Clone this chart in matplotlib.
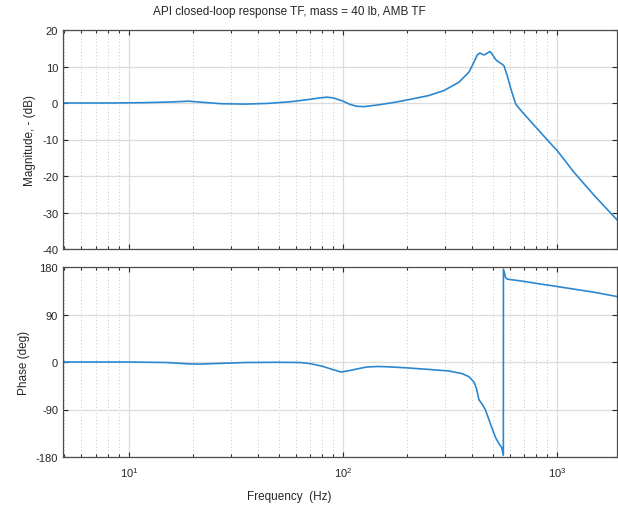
import numpy as np
import matplotlib
matplotlib.use("Agg")
import matplotlib.pyplot as plt
from matplotlib.ticker import LogLocator, NullFormatter

plt.rcParams['font.family'] = ['Liberation Sans', 'DejaVu Sans']
plt.rcParams['mathtext.fontset'] = 'custom'
plt.rcParams['mathtext.rm'] = 'Liberation Sans'

title_text = "API closed-loop response TF, mass = 40 lb, AMB TF"
mag_label = "Magnitude, - (dB)"
phase_label = "Phase (deg)"
freq_label = "Frequency  (Hz)"

# magnitude (Hz, dB)
mag_freq = [4.92, 8, 12, 16, 19, 22, 27, 35, 45, 58, 70, 78, 84, 90, 99, 108, 116, 125,
            147, 175, 210, 250, 296, 348, 388, 409, 424, 436, 448, 458, 470, 485, 495,
            507, 520, 535, 555, 565, 585, 608, 641, 688, 795, 949, 1000, 1200, 1500, 1905]
mag_db = [0.0, 0.0, 0.1, 0.3, 0.5, 0.2, -0.2, -0.3, -0.1, 0.4, 1.0, 1.4, 1.6, 1.4, 0.6,
          -0.4, -0.9, -1.0, -0.5, 0.2, 1.1, 2.0, 3.4, 5.7, 8.5, 11.2, 13.2, 13.7, 13.3,
          13.2, 13.6, 14.1, 13.6, 12.6, 11.7, 11.2, 10.6, 10.2, 7.5, 3.9, -0.3, -2.5,
          -6.6, -11.6, -13.0, -19.0, -25.5, -32.0]

# phase (Hz, deg)
ph_freq = [4.92, 10, 15, 19, 21.4, 25, 35, 50, 63, 70, 80, 89, 98, 108, 120, 129, 145,
           160, 197, 250, 312, 360, 388, 409, 420, 432, 447, 463, 490, 517, 536, 551, 561,
           561.5, 575, 585, 665, 1000, 1500, 1905]
ph_deg = [0, 0, -1, -3.5, -4, -3, -1, -0.5, -1, -3, -8, -14, -19, -16, -12, -9.5, -8.5,
          -9, -11, -14, -17, -22, -28, -38, -50, -72, -80, -91, -119, -144, -155, -162,
          -177, 176, 160, 157, 154, 143, 132, 124]

line_color = '#2b88d0'
W, H = 618, 510
fig = plt.figure(figsize=(W / 100, H / 100), dpi=100)

def px_axes(x0, y0, x1, y1):
    return fig.add_axes([x0 / W, 1 - y1 / H, (x1 - x0) / W, (y1 - y0) / H])

ax1 = px_axes(63, 31, 617, 250)
ax2 = px_axes(63, 268, 617, 458)

for ax in (ax1, ax2):
    ax.set_xscale('log')
    ax.set_xlim(4.92, 1905)
    ax.xaxis.set_major_locator(LogLocator(base=10, numticks=10))
    ax.xaxis.set_minor_locator(LogLocator(base=10, subs=np.arange(2, 10), numticks=20))
    ax.xaxis.set_minor_formatter(NullFormatter())
    ax.grid(True, which='major', color='#dcdcdc', lw=0.9, ls='-')
    ax.grid(True, which='minor', axis='x', color='#b8b8b8', lw=0.6, ls=(0, (1, 3)))
    ax.set_axisbelow(True)
    ax.tick_params(which='both', direction='in', top=True, right=True,
                   labelsize=8, colors='#262626', width=0.8)
    ax.tick_params(which='major', length=3.5)
    ax.tick_params(which='minor', length=2)
    for s in ax.spines.values():
        s.set_color('#4d4d4d')
        s.set_linewidth(0.9)

ax1.plot(mag_freq, mag_db, color=line_color, lw=1.2)
ax1.set_ylim(-40, 20)
ax1.set_yticks([-40, -30, -20, -10, 0, 10, 20])
ax1.set_yticklabels(['-40', '-30', '-20', '-10', '0', '10', '20'])
ax1.tick_params(labelbottom=False)
ax1.set_ylabel(mag_label, fontsize=8.5, color='#262626', labelpad=4)

ax2.plot(ph_freq, ph_deg, color=line_color, lw=1.2)
ax2.set_ylim(-180, 180)
ax2.set_yticks([-180, -90, 0, 90, 180])
ax2.set_yticklabels(['-180', '-90', '0', '90', '180'])
ax2.set_ylabel(phase_label, fontsize=8.5, color='#262626', labelpad=4)
ax2.tick_params(axis='x', pad=6)

fig.text(289 / W, 1 - 12 / H, title_text, ha='center', va='center', fontsize=8.5, color='#262626')
fig.text(289 / W, 1 - 497 / H, freq_label, ha='center', va='center', fontsize=8.5, color='#262626')

fig.savefig('out.png', dpi=100)
